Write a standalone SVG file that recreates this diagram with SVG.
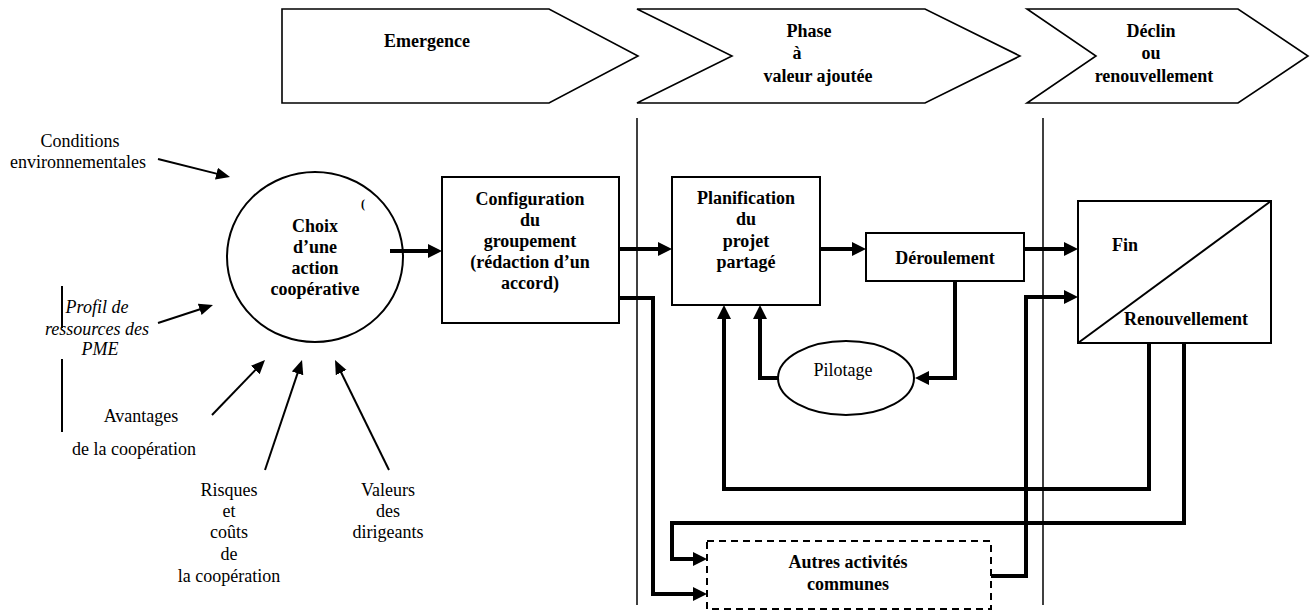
<svg xmlns="http://www.w3.org/2000/svg" width="1311" height="612" viewBox="0 0 1311 612">
<style>
text{font-family:"Liberation Serif","Times New Roman",serif;font-size:18px;fill:#000;text-anchor:middle}
.b{font-weight:bold}
.i{font-style:italic}
.shape{fill:#fff;stroke:#000;stroke-width:2}
.chev{fill:#fff;stroke:#000;stroke-width:1.6}
.phase{stroke:#000;stroke-width:1.5;fill:none}
.thick{fill:none;stroke:#000;stroke-width:4;stroke-linejoin:miter}
.thin{fill:none;stroke:#000;stroke-width:2}
.dash{fill:#fff;stroke:#000;stroke-width:2;stroke-dasharray:7,5}
</style>
<defs>
<marker id="ah" markerUnits="userSpaceOnUse" markerWidth="16" markerHeight="16" refX="2" refY="8" orient="auto">
<path d="M0,1 L14,8 L0,15 z" fill="#000"/>
</marker>
<marker id="ahs" markerUnits="userSpaceOnUse" markerWidth="16" markerHeight="14" refX="2" refY="6" orient="auto">
<path d="M0,0 L14,6 L0,12 z" fill="#000"/>
</marker>
</defs>
<rect width="1311" height="612" fill="#fff"/>

<g id="phases">
<g id="phase-emergence">
<polygon class="chev" points="282,9 549,9 638,56 549,103 282,103"/>
<text class="b" x="427" y="47">Emergence</text>
</g>
<g id="phase-valeur">
<polygon class="chev" points="637,9 925,9 1020,56 925,103 637,103 732,56"/>
<text class="b" x="809" y="37">Phase</text>
<text class="b" x="797" y="59">à</text>
<text class="b" x="818" y="82">valeur ajoutée</text>
</g>
<g id="phase-declin">
<polygon class="chev" points="1027,9 1238,9 1308,56 1238,103 1027,103 1096,56"/>
<text class="b" x="1151" y="37">Déclin</text>
<text class="b" x="1151" y="59">ou</text>
<text class="b" x="1154" y="82">renouvellement</text>
</g>
<line class="phase" x1="637" y1="118" x2="637" y2="605"/>
<line class="phase" x1="1043" y1="118" x2="1043" y2="605"/>
</g>

<g id="inputs">
<g id="in-conditions">
<text x="80" y="147">Conditions</text>
<text x="78" y="168">environnementales</text>
</g>
<g id="in-profil">
<text class="i" x="97" y="313">Profil de</text>
<text class="i" x="97" y="335">ressources des</text>
<text class="i" x="100" y="355">PME</text>
<line class="thin" x1="62" y1="286" x2="62" y2="328"/>
<line class="thin" x1="62" y1="359" x2="62" y2="432"/>
</g>
<g id="in-avantages">
<text x="141" y="422">Avantages</text>
<text x="134" y="455">de la coopération</text>
</g>
<g id="in-risques">
<text x="229" y="496">Risques</text>
<text x="229" y="517">et</text>
<text x="229" y="538">coûts</text>
<text x="229" y="560">de</text>
<text x="229" y="582">la coopération</text>
</g>
<g id="in-valeurs">
<text x="388" y="496">Valeurs</text>
<text x="388" y="517">des</text>
<text x="388" y="538">dirigeants</text>
</g>
</g>

<g id="choix">
<ellipse class="shape" cx="315" cy="257" rx="88" ry="85"/>
<text class="b" x="315" y="232">Choix</text>
<text class="b" x="315" y="253">d’une</text>
<text class="b" x="315" y="274">action</text>
<text class="b" x="315" y="295">coopérative</text>
<text class="b" x="363" y="208" style="font-size:12px">(</text>
</g>

<g id="configuration">
<rect class="shape" x="442" y="177" width="177" height="146"/>
<text class="b" x="530" y="205">Configuration</text>
<text class="b" x="530" y="226">du</text>
<text class="b" x="530" y="247">groupement</text>
<text class="b" x="530" y="268">(rédaction d’un</text>
<text class="b" x="530" y="289">accord)</text>
</g>

<g id="planification">
<rect class="shape" x="672" y="177" width="148" height="128"/>
<text class="b" x="746" y="204">Planification</text>
<text class="b" x="746" y="225">du</text>
<text class="b" x="746" y="247">projet</text>
<text class="b" x="746" y="268">partagé</text>
</g>

<g id="deroulement">
<rect class="shape" x="866" y="233" width="158" height="48"/>
<text class="b" x="945" y="264">Déroulement</text>
</g>

<g id="fin-renouvellement">
<rect class="shape" x="1078" y="201" width="193" height="142"/>
<line class="thin" x1="1078" y1="343" x2="1271" y2="201"/>
<text class="b" x="1112" y="251" style="text-anchor:start">Fin</text>
<text class="b" x="1186" y="325">Renouvellement</text>
</g>

<g id="pilotage">
<ellipse class="shape" cx="846" cy="378" rx="68" ry="37"/>
<text x="843" y="376">Pilotage</text>
</g>

<g id="autres">
<rect class="dash" x="707" y="541" width="284" height="68"/>
<text class="b" x="848" y="568">Autres activités</text>
<text class="b" x="848" y="590">communes</text>
</g>

<g id="connectors">
<path class="thin" d="M158,159 L218.4,174.1" marker-end="url(#ahs)"/>
<path class="thin" d="M158,323 L201.6,308.7" marker-end="url(#ahs)"/>
<path class="thin" d="M212,415 L256.7,368.6" marker-end="url(#ahs)"/>
<path class="thin" d="M265,470 L298.2,371.4" marker-end="url(#ahs)"/>
<path class="thin" d="M389,470 L340.3,370.8" marker-end="url(#ahs)"/>

<path class="thick" d="M390,251 L430,251" marker-end="url(#ah)"/>
<path class="thick" d="M619,249 L660,249" marker-end="url(#ah)"/>
<path class="thick" d="M820,249 L854,249" marker-end="url(#ah)"/>
<path class="thick" d="M1024,249 L1066,249" marker-end="url(#ah)"/>
<path class="thick" d="M619,298 L653,298 L653,594 L695,594" marker-end="url(#ah)"/>
<path class="thick" d="M1184,343 L1184,523 L672,523 L672,559 L695,559" marker-end="url(#ah)"/>
<path class="thick" d="M1149,343 L1149,489 L724,489 L724,317" marker-end="url(#ah)"/>
<path class="thick" d="M778,378 L760,378 L760,317" marker-end="url(#ah)"/>
<path class="thick" d="M955,281 L955,378 L927,378" marker-end="url(#ah)"/>
<path class="thick" d="M991,576 L1026,576 L1026,297 L1066,297" marker-end="url(#ah)"/>
</g>
</svg>
